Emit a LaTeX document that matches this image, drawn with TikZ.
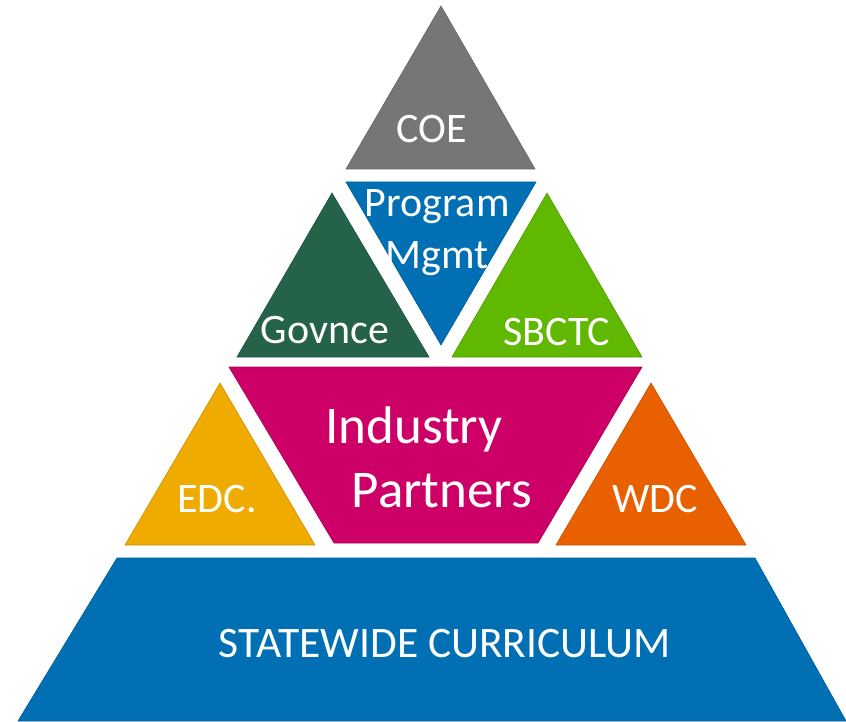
\documentclass[tikz,border=0pt]{standalone}
\usepackage{fontspec}
\setmainfont{Carlito}
\usetikzlibrary{positioning}
\definecolor{coegray}{HTML}{767676}
\definecolor{pmblue}{HTML}{006FB4}
\definecolor{govgreen}{HTML}{246249}
\definecolor{sbgreen}{HTML}{60B800}
\definecolor{indmag}{HTML}{CC0066}
\definecolor{edcyel}{HTML}{F0AB00}
\definecolor{wdcorg}{HTML}{E86000}

\begin{document}
\begin{tikzpicture}[
      x=1pt, y=-1pt,
     part/.style = {fill=#1, draw=#1!85!black, line width=0.6pt, line join=miter},
      lbl/.style = {text=white, inner sep=0pt, anchor=base,
                    font=\fontsize{42}{50}\selectfont},
   biglbl/.style = {lbl, font=\fontsize{53}{63}\selectfont},
   caplbl/.style = {lbl, font=\fontsize{43.5}{52}\selectfont}
                    ]
\useasboundingbox (0,0) rectangle (846,722);
% top
\path[part=coegray] (441,6) -- (535,169) -- (346,169) -- cycle;
\node (coe) [lbl] at (432,143) {COE};
% second row
\path[part=govgreen] (332,193) -- (429,357) -- (237,357) -- cycle;
\path[part=pmblue] (346,182) -- (536,182) -- (441,345) -- cycle;
\path[part=sbgreen] (547,193) -- (642,357) -- (452,357) -- cycle;
\node (prog) [lbl] at (437,217) {Program};
\node (mgmt) [lbl,below=52pt of prog.base,anchor=base] {Mgmt};
\node (gov)  [lbl] at (325,343) {Govnce};
\node (sbc)  [lbl] at (557,345) {SBCTC};
% third row
\path[part=edcyel] (220,383) -- (315,545) -- (125,545) -- cycle;
\path[part=indmag] (229,367) -- (642,367) -- (538,543) -- (334,543) -- cycle;
\path[part=wdcorg] (651,383) -- (746,545) -- (556,545) -- cycle;
\node (ind)  [biglbl] at (414,443) {Industry};
\node (part) [biglbl] at (442,507) {Partners};
\node (edc)  [lbl] at (217,512) {EDC.};
\node (wdc)  [lbl] at (655,512) {WDC};
% base
\path[part=pmblue] (117,558) -- (755,558) -- (846,721) -- (18,721) -- cycle;
\node (cur)  [caplbl] at (445,657) {STATEWIDE CURRICULUM};
\end{tikzpicture}
\end{document}
